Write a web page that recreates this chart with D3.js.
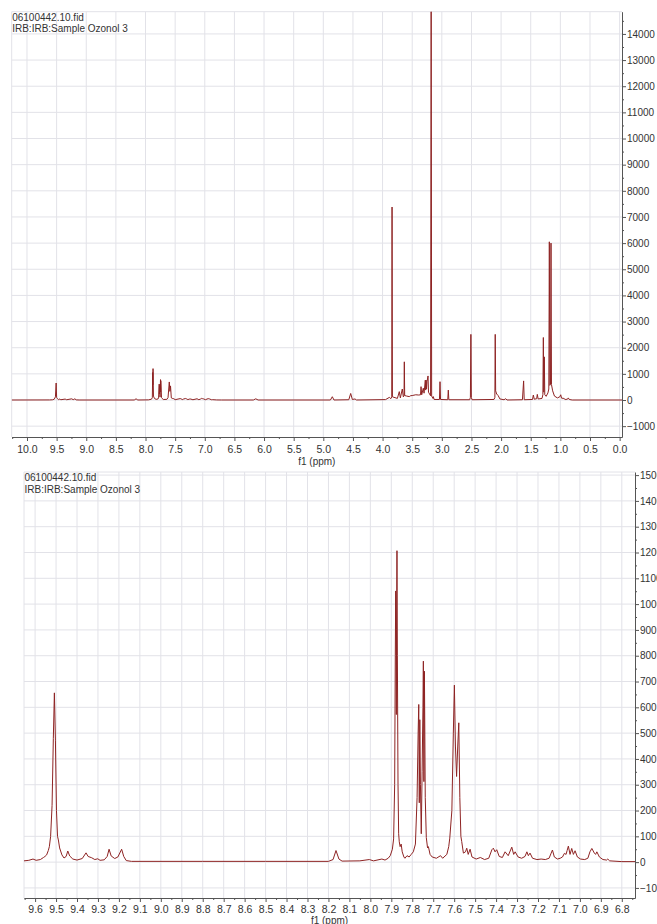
<!DOCTYPE html>
<html>
<head>
<meta charset="utf-8">
<script src="https://cdn.jsdelivr.net/npm/d3@7"></script>
<style>
  body { margin: 0; background: #fff; }
  svg { display: block; font-family: "Liberation Sans", Arial, sans-serif; }
</style>
</head>
<body>
<div id="chart"></div>
<script>
// header text shown in both panels
const titleLines = ["06100442.10.fid", "IRB:IRB:Sample Ozonol 3"];
const axisTitle = "f1 (ppm)";

// tick values
const fullXTicks = [10.0, 9.5, 9.0, 8.5, 8.0, 7.5, 7.0, 6.5, 6.0, 5.5, 5.0, 4.5, 4.0, 3.5, 3.0, 2.5, 2.0, 1.5, 1.0, 0.5, 0.0];
const fullYTicks = [-1000, 0, 1000, 2000, 3000, 4000, 5000, 6000, 7000, 8000, 9000, 10000, 11000, 12000, 13000, 14000];
const zoomXTicks = [9.6, 9.5, 9.4, 9.3, 9.2, 9.1, 9.0, 8.9, 8.8, 8.7, 8.6, 8.5, 8.4, 8.3, 8.2, 8.1, 8.0, 7.9, 7.8, 7.7, 7.6, 7.5, 7.4, 7.3, 7.2, 7.1, 7.0, 6.9, 6.8];
const zoomYTicks = [-100, 0, 100, 200, 300, 400, 500, 600, 700, 800, 900, 1000, 1100, 1200, 1300, 1400, 1500];

// full spectrum [ppm, intensity]
const fullSpectrum = [
  [10.258, 0], [9.62, 2], [9.57, 8], [9.54, 30], [9.52, 120], [9.508, 650], [9.50, 100], [9.49, 60], [9.47, 15],
  [9.444, 40], [9.43, 10], [9.356, 35], [9.33, 10], [9.246, 45], [9.22, 12], [9.192, 45], [9.17, 5], [9.12, 0],
  [8.19, 0], [8.16, 45], [8.13, 0],
  [7.95, 5], [7.90, 30], [7.885, 90], [7.879, 1050], [7.876, 580], [7.873, 1200], [7.866, 150], [7.85, 60],
  [7.82, 25], [7.79, 40], [7.78, 80], [7.769, 610], [7.766, 230], [7.764, 550], [7.755, 110], [7.747, 780],
  [7.745, 310], [7.742, 740], [7.73, 90], [7.72, 60], [7.70, 20], [7.64, 25], [7.62, 90], [7.599, 690],
  [7.589, 330], [7.578, 540], [7.565, 80], [7.54, 55], [7.523, 50], [7.50, 12], [7.415, 54], [7.40, 45],
  [7.38, 15], [7.355, 40], [7.323, 58], [7.305, 40], [7.285, 15], [7.252, 40], [7.235, 35], [7.20, 10],
  [7.131, 47], [7.10, 12], [7.074, 34], [7.054, 62], [7.038, 53], [7.022, 44], [6.99, 12], [6.942, 53],
  [6.918, 40], [6.89, 10], [6.866, 12], [6.80, 2], [6.72, 0],
  [6.18, 0], [6.14, 45], [6.10, 0],
  [4.88, 0], [4.848, 125], [4.82, 0], [4.57, 10], [4.538, 250], [4.51, 20], [4.465, 40], [4.44, 0],
  [3.95, 15], [3.886, 100], [3.86, 50], [3.845, 120], [3.840, 7380], [3.834, 120], [3.79, 90], [3.75, 60],
  [3.718, 320], [3.70, 80], [3.667, 420], [3.65, 120], [3.638, 160], [3.633, 1460], [3.627, 170], [3.593, 150],
  [3.55, 130], [3.525, 165], [3.50, 170], [3.44, 200], [3.39, 190], [3.36, 200], [3.351, 510], [3.34, 200],
  [3.313, 450], [3.30, 260], [3.279, 760], [3.272, 380], [3.265, 760], [3.258, 420], [3.25, 700], [3.233, 920],
  [3.225, 300], [3.19, 160], [3.18, 16000], [3.172, 150], [3.15, 60], [3.144, 130], [3.13, 20], [3.04, 20],
  [3.031, 700], [3.022, 20], [2.90, 10], [2.891, 380], [2.882, 10],
  [2.53, 10], [2.518, 100], [2.51, 2510], [2.502, 100], [2.49, 10],
  [2.12, 20], [2.105, 100], [2.099, 2510], [2.092, 350], [2.075, 230], [2.05, 170], [2.02, 40], [1.95, 10],
  [1.922, 50], [1.90, 0],
  [1.64, 10], [1.62, 730], [1.61, 10], [1.47, 20], [1.456, 190], [1.44, 30], [1.40, 50], [1.389, 215], [1.375, 40],
  [1.31, 60], [1.295, 200], [1.287, 2390], [1.28, 300], [1.271, 1650], [1.263, 200], [1.24, 140], [1.21, 270],
  [1.195, 420], [1.186, 6050], [1.178, 560], [1.166, 600], [1.158, 6000], [1.15, 590], [1.13, 350], [1.10, 150],
  [1.05, 80], [1.01, 120], [0.994, 200], [0.98, 70], [0.94, 60], [0.92, 20], [0.88, 30], [0.866, 80], [0.85, 20],
  [0.80, 0], [-0.04, 0]
];

// expanded aromatic region [ppm, intensity]
const zoomSpectrum = [
  [9.653, 5], [9.63, 7], [9.61, 12], [9.595, 7], [9.575, 10], [9.56, 18], [9.553, 22], [9.545, 28], [9.537, 45],
  [9.532, 60], [9.526, 100], [9.519, 220], [9.513, 480], [9.508, 656], [9.503, 470], [9.498, 200], [9.493, 100],
  [9.489, 86], [9.483, 55], [9.472, 28], [9.462, 16], [9.452, 22], [9.444, 43], [9.435, 24], [9.42, 12], [9.40, 8],
  [9.375, 14], [9.357, 36], [9.347, 22], [9.33, 17], [9.315, 10], [9.301, 13], [9.29, 7], [9.27, 9], [9.256, 22],
  [9.247, 50], [9.237, 24], [9.22, 14], [9.205, 20], [9.187, 50], [9.177, 22], [9.165, 6], [9.14, 3], [8.80, 3],
  [8.50, 3], [8.20, 3], [8.178, 10], [8.164, 45], [8.15, 12], [8.135, 4], [8.05, 5], [8.005, 10], [7.985, 5],
  [7.945, 12], [7.93, 8], [7.915, 15], [7.905, 25], [7.895, 50], [7.889, 90], [7.884, 300], [7.881, 800],
  [7.879, 1051], [7.877, 800], [7.876, 572], [7.875, 900], [7.873, 1207], [7.871, 800], [7.868, 300],
  [7.865, 110], [7.862, 79], [7.858, 60], [7.853, 70], [7.848, 40], [7.84, 20], [7.835, 15], [7.825, 25],
  [7.815, 20], [7.805, 30], [7.795, 40], [7.785, 70], [7.777, 250], [7.772, 500], [7.769, 611], [7.7665, 230],
  [7.764, 552], [7.761, 300], [7.757, 110], [7.753, 350], [7.749, 600], [7.747, 779], [7.7445, 312], [7.742, 740],
  [7.738, 250], [7.733, 95], [7.727, 55], [7.723, 60], [7.715, 30], [7.705, 20], [7.685, 15], [7.665, 25],
  [7.655, 15], [7.635, 30], [7.626, 60], [7.621, 93], [7.611, 200], [7.604, 500], [7.599, 686], [7.594, 450],
  [7.5885, 332], [7.583, 450], [7.578, 540], [7.573, 250], [7.568, 100], [7.564, 80], [7.556, 35], [7.546, 40],
  [7.540, 54], [7.533, 30], [7.524, 50], [7.515, 20], [7.495, 12], [7.475, 18], [7.455, 10], [7.435, 15],
  [7.42, 48], [7.413, 54], [7.405, 40], [7.397, 48], [7.385, 22], [7.37, 18], [7.357, 40], [7.342, 25],
  [7.325, 58], [7.316, 30], [7.309, 40], [7.295, 20], [7.278, 15], [7.262, 22], [7.253, 40], [7.246, 25],
  [7.238, 35], [7.226, 15], [7.205, 10], [7.185, 12], [7.165, 10], [7.147, 15], [7.137, 35], [7.131, 47],
  [7.122, 20], [7.107, 12], [7.094, 15], [7.083, 20], [7.074, 34], [7.066, 30], [7.061, 45], [7.055, 62],
  [7.047, 30], [7.039, 53], [7.031, 30], [7.023, 44], [7.012, 20], [6.997, 12], [6.977, 10], [6.962, 15],
  [6.952, 40], [6.943, 53], [6.931, 35], [6.925, 30], [6.919, 40], [6.907, 20], [6.89, 10], [6.872, 8],
  [6.867, 12], [6.858, 5], [6.80, 2], [6.737, 2]
];

const WIDTH = 657, HEIGHT = 924;
const LINE_COLOR = '#8e2323';
const GRID_COLOR = '#e2e2e8';
const AXIS_COLOR = '#555';

const svg = d3.select('#chart').append('svg')
  .attr('width', WIDTH)
  .attr('height', HEIGHT);

const panels = [
  {id: 'full', left: 11.7, right: 622, top: 11.7, bottom: 437,
   xDomain: [10.258, -0.04], yDomain: [-1415, 14850],
   xTicks: fullXTicks, yTicks: fullYTicks, data: fullSpectrum, labelY: 465, pad: 5},
  {id: 'zoom', left: 24, right: 635, top: 472, bottom: 898,
   xDomain: [9.653, 6.737], yDomain: [-139, 1512],
   xTicks: zoomXTicks, yTicks: zoomYTicks, data: zoomSpectrum, labelY: 923.5, pad: 3.5}
];

function midpoints(ticks){
  const step = ticks[1] - ticks[0];
  const out = d3.pairs(ticks).map(([a, b]) => (a + b) / 2);
  out.unshift(ticks[0] - step / 2);
  out.push(ticks[ticks.length - 1] + step / 2);
  return out;
}

panels.forEach(p => {
  const x = d3.scaleLinear().domain(p.xDomain).range([p.left, p.right]);
  const y = d3.scaleLinear().domain(p.yDomain).range([p.bottom, p.top]);
  const g = svg.append('g');

  const inX = v => v <= p.xDomain[0] && v >= p.xDomain[1];
  const inY = v => v >= p.yDomain[0] && v <= p.yDomain[1];

  // grid
  g.append('g').selectAll('line')
    .data(p.xTicks.filter(inX))
    .join('line')
      .attr('x1', d => x(d)).attr('x2', d => x(d))
      .attr('y1', p.top).attr('y2', p.bottom)
      .attr('stroke', GRID_COLOR);
  g.append('g').selectAll('line')
    .data(p.yTicks.filter(inY))
    .join('line')
      .attr('x1', p.left).attr('x2', p.right)
      .attr('y1', d => y(d)).attr('y2', d => y(d))
      .attr('stroke', GRID_COLOR);
  // light frame on top and left
  g.append('path')
    .attr('d', `M${p.left},${p.bottom}V${p.top}H${p.right}`)
    .attr('fill', 'none')
    .attr('stroke', GRID_COLOR);

  // spectrum
  g.append('clipPath').attr('id', 'clip-' + p.id)
    .append('rect')
      .attr('x', p.left).attr('y', p.top)
      .attr('width', p.right - p.left).attr('height', p.bottom - p.top);
  const line = d3.line().x(d => x(d[0])).y(d => y(d[1]));
  g.append('path')
    .datum(p.data)
    .attr('clip-path', `url(#clip-${p.id})`)
    .attr('d', line)
    .attr('fill', 'none')
    .attr('stroke', LINE_COLOR)
    .attr('stroke-width', 1);

  // x axis
  const xAxisG = g.append('g')
    .attr('transform', `translate(0,${p.bottom})`)
    .call(d3.axisBottom(x).tickValues(p.xTicks).tickFormat(d3.format('.1f'))
      .tickSize(4).tickSizeOuter(0).tickPadding(p.pad));
  g.append('g')
    .attr('transform', `translate(0,${p.bottom})`)
    .call(d3.axisBottom(x).tickValues(midpoints(p.xTicks).filter(inX)).tickFormat('')
      .tickSize(2).tickSizeOuter(0))
    .select('.domain').remove();

  // y axis on the right
  const yAxisG = g.append('g')
    .attr('transform', `translate(${p.right},0)`)
    .call(d3.axisRight(y).tickValues(p.yTicks.filter(inY)).tickFormat(d3.format('d'))
      .tickSize(4).tickSizeOuter(0).tickPadding(1));
  g.append('g')
    .attr('transform', `translate(${p.right},0)`)
    .call(d3.axisRight(y).tickValues(midpoints(p.yTicks).filter(inY)).tickFormat('')
      .tickSize(2).tickSizeOuter(0))
    .select('.domain').remove();

  xAxisG.selectAll('text').style('font-size', '10.5px');
  yAxisG.selectAll('text').style('font-size', '10px');
  [xAxisG, yAxisG].forEach(a => {
    a.selectAll('text').attr('fill', '#333')
      .style('font-family', '"Liberation Sans", Arial, sans-serif');
  });
  g.selectAll('.domain, .tick line').attr('stroke', AXIS_COLOR);

  // axis title
  g.append('text')
    .attr('x', (p.left + p.right) / 2)
    .attr('y', p.labelY)
    .attr('text-anchor', 'middle')
    .attr('font-size', '10px')
    .attr('fill', '#333')
    .text(axisTitle);

  // header
  titleLines.forEach((t, i) => {
    g.append('text')
      .attr('x', p.left + 0.5)
      .attr('y', p.top + 9 + i * 11.5)
      .attr('font-size', '10px')
      .attr('fill', '#333')
      .text(t);
  });
});
</script>
</body>
</html>
